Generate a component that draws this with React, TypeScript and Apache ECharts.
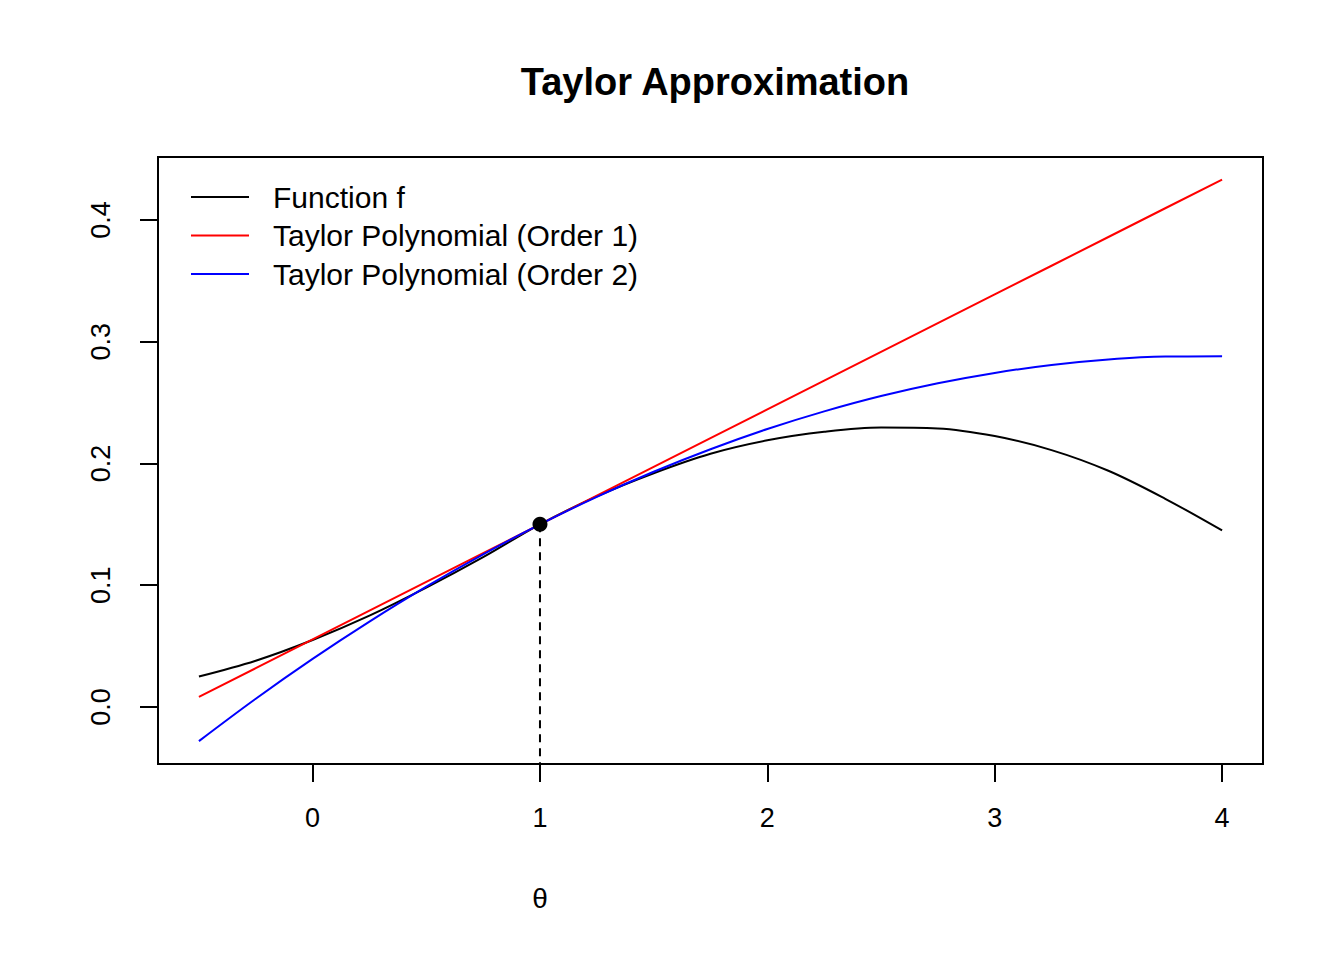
import React, { useEffect, useRef } from "react";
import * as echarts from "echarts";

const xs = [-0.5, -0.25, 0, 0.25, 0.5, 0.75, 1, 1.25, 1.5, 1.75, 2, 2.25, 2.5, 2.75, 3, 3.25, 3.5, 3.75, 4];
const fVals = [0.025, 0.038, 0.055, 0.075, 0.098, 0.123, 0.15, 0.173, 0.192, 0.208, 0.219, 0.226, 0.2295, 0.2288, 0.2225, 0.211, 0.194, 0.171, 0.145];
const order1Vals = [0.0083, 0.0319, 0.0555, 0.0791, 0.1028, 0.1264, 0.15, 0.1736, 0.1972, 0.2208, 0.2444, 0.268, 0.2916, 0.3152, 0.3388, 0.3624, 0.386, 0.4096, 0.4332];
const order2Vals = [-0.028, 0.0068, 0.0395, 0.0701, 0.0988, 0.1254, 0.15, 0.1726, 0.1932, 0.2117, 0.2283, 0.2428, 0.2554, 0.2659, 0.2744, 0.2809, 0.2854, 0.2878, 0.288];
const xTicks = [0, 1, 2, 3, 4];
const yTicks = [0, 0.1, 0.2, 0.3, 0.4];
const theta0 = 1;
const f0 = 0.15;
const seriesNames = ["Function f", "Taylor Polynomial (Order 1)", "Taylor Polynomial (Order 2)"];

const FONT = "Liberation Sans, Arial, sans-serif";

export default function App() {
  const ref = useRef<HTMLDivElement>(null);
  useEffect(() => {
    const chart = echarts.init(ref.current!, null, { renderer: "svg" });
    const yMin = -0.0468, yMax = 0.4517;
    const mk = (vals: number[]) => xs.map((x, i) => [x, vals[i]]);
    chart.setOption({
      animation: false,
      backgroundColor: "#fff",
      title: {
        text: "Taylor Approximation", left: 710, top: 58, textAlign: "center",
        textStyle: { fontFamily: FONT, fontSize: 38, fontWeight: "bold", color: "#000" },
      },
      grid: { left: 158, right: 81, top: 157, bottom: 196, show: true, borderColor: "#000", borderWidth: 2, backgroundColor: "transparent" },
      legend: {
        orient: "vertical", left: 186, top: 176, itemWidth: 58, itemHeight: 2, itemGap: 6.5, icon: "rect",
        data: seriesNames,
        textStyle: { fontFamily: FONT, fontSize: 30, color: "#000", lineHeight: 32, padding: [0, 0, 0, 19] },
      },
      xAxis: {
        type: "value", min: -0.68, max: 4.18,
        splitLine: { show: false }, axisLine: { show: true, onZero: false, lineStyle: { color: "#000", width: 2 } },
        axisTick: { show: true, length: 18, customValues: xTicks, lineStyle: { color: "#000", width: 2 } },
        axisLabel: { customValues: xTicks, margin: 40, fontSize: 27, fontFamily: FONT, color: "#000" },
      },
      yAxis: {
        type: "value", min: yMin, max: yMax,
        splitLine: { show: false }, axisLine: { show: true, onZero: false, lineStyle: { color: "#000", width: 2 } },
        axisTick: { show: true, length: 18, customValues: yTicks, lineStyle: { color: "#000", width: 2 } },
        axisLabel: { customValues: yTicks, rotate: 90, margin: 44, fontSize: 27, fontFamily: FONT, color: "#000",
          formatter: (v: number) => v.toFixed(1) },
      },
      graphic: [{ type: "text", x: 540, y: 884, style: { text: "θ", fontFamily: FONT, fontSize: 28, fill: "#000", textAlign: "center" } }],
      series: [
        { name: seriesNames[0], type: "line", smooth: 0.35, symbol: "none", data: mk(fVals), lineStyle: { color: "#000", width: 2 }, itemStyle: { color: "#000" } },
        { name: seriesNames[1], type: "line", symbol: "none", data: mk(order1Vals), lineStyle: { color: "#ff0000", width: 2 }, itemStyle: { color: "#ff0000" } },
        { name: seriesNames[2], type: "line", smooth: 0.35, symbol: "none", data: mk(order2Vals), lineStyle: { color: "#0000ff", width: 2 }, itemStyle: { color: "#0000ff" } },
        { type: "line", symbol: "none", data: [[theta0, f0], [theta0, yMin]], lineStyle: { color: "#000", width: 2, type: [8, 6] } },
        { type: "scatter", symbolSize: 15, data: [[theta0, f0]], itemStyle: { color: "#000", opacity: 1 }, z: 10 },
      ],
    });
    return () => chart.dispose();
  }, []);
  return <div ref={ref} style={{ position: "fixed", left: 0, top: 0, width: 1344, height: 960 }} />;
}
